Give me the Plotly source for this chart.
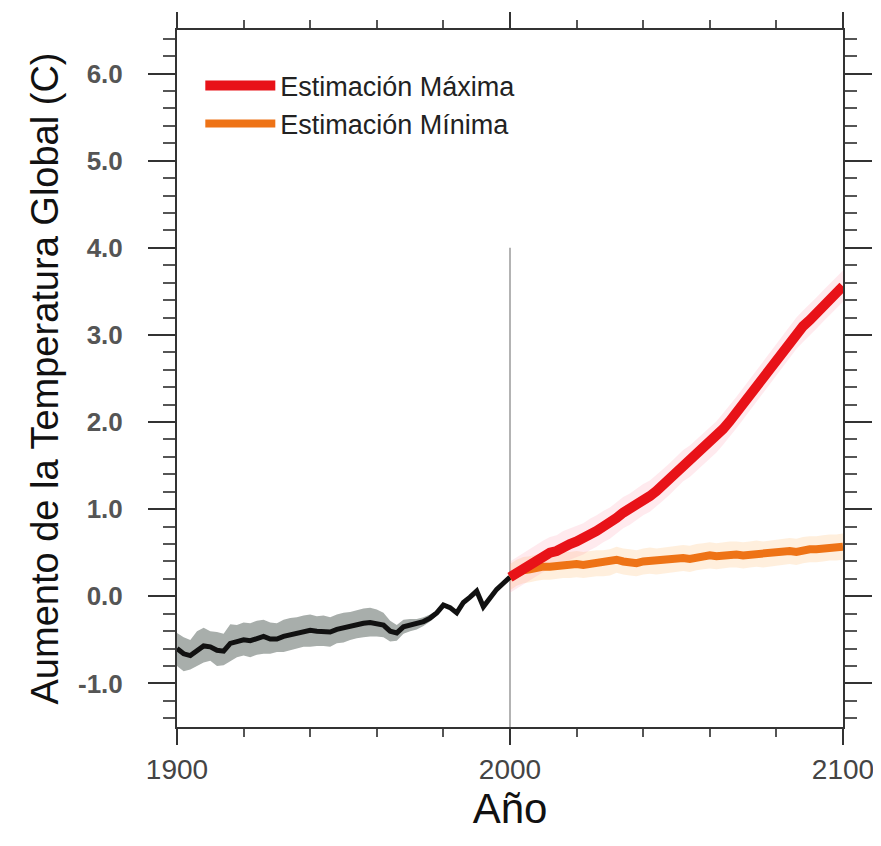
import plotly.graph_objects as go

# ---------------- data ----------------
hist_years = list(range(1900, 2001, 2))
hist_vals = [-0.60, -0.66, -0.68, -0.62, -0.57, -0.58, -0.62, -0.63, -0.54, -0.52,
             -0.50, -0.51, -0.48, -0.46, -0.49, -0.49, -0.46, -0.44, -0.42, -0.41,
             -0.39, -0.40, -0.40, -0.41, -0.38, -0.36, -0.34, -0.32, -0.31, -0.30,
             -0.31, -0.33, -0.40, -0.42, -0.35, -0.33, -0.32, -0.29, -0.25, -0.19,
             -0.10, -0.13, -0.19, -0.07, -0.01, 0.06, -0.12, -0.02, 0.08, 0.15, 0.22]

band_years = list(range(1900, 1979, 2))
band_hi = [-0.42, -0.47, -0.50, -0.40, -0.36, -0.40, -0.41, -0.43, -0.32, -0.33,
           -0.30, -0.31, -0.28, -0.27, -0.30, -0.31, -0.27, -0.25, -0.24, -0.22,
           -0.21, -0.23, -0.22, -0.24, -0.21, -0.19, -0.18, -0.16, -0.14, -0.13,
           -0.15, -0.19, -0.28, -0.33, -0.27, -0.26, -0.26, -0.24, -0.21, -0.16]
band_lo = [-0.80, -0.86, -0.84, -0.80, -0.76, -0.74, -0.80, -0.79, -0.74, -0.70,
           -0.68, -0.70, -0.67, -0.66, -0.66, -0.64, -0.64, -0.62, -0.60, -0.58,
           -0.58, -0.57, -0.57, -0.58, -0.54, -0.53, -0.50, -0.48, -0.47, -0.46,
           -0.46, -0.47, -0.52, -0.51, -0.43, -0.40, -0.38, -0.34, -0.29, -0.22]

proj_years = list(range(2000, 2101, 2))
max_vals = [0.22, 0.27, 0.31, 0.36, 0.41, 0.46, 0.50, 0.52, 0.57, 0.60,
            0.63, 0.66, 0.71, 0.75, 0.80, 0.84, 0.90, 0.96, 1.00, 1.06,
            1.11, 1.15, 1.21, 1.28, 1.35, 1.43, 1.50, 1.55, 1.62, 1.68,
            1.75, 1.83, 1.92, 2.01, 2.11, 2.21, 2.31, 2.42, 2.52, 2.62,
            2.72, 2.82, 2.92, 3.02, 3.10, 3.17, 3.25, 3.33, 3.41, 3.49, 3.56]
min_vals = [0.22, 0.27, 0.30, 0.31, 0.33, 0.34, 0.34, 0.35, 0.36, 0.36,
            0.37, 0.36, 0.37, 0.38, 0.38, 0.39, 0.42, 0.40, 0.39, 0.38,
            0.40, 0.41, 0.40, 0.41, 0.42, 0.43, 0.44, 0.43, 0.45, 0.46,
            0.47, 0.46, 0.47, 0.48, 0.48, 0.47, 0.48, 0.49, 0.48, 0.49,
            0.50, 0.51, 0.52, 0.51, 0.53, 0.54, 0.54, 0.55, 0.56, 0.56, 0.57]
max_spread = 0.18
min_spread = 0.15

divider_year = 2000
divider_range = [-1.5, 4.0]

y_ticks = [-1, 0, 1, 2, 3, 4, 5, 6]
y_ticktext = ["-1.0", "0.0", "1.0", "2.0", "3.0", "4.0", "5.0", "6.0"]
x_ticks = [1900, 2000, 2100]

series_names = ["Estimación Máxima", "Estimación Mínima"]

# ---------------- figure ----------------
SANS = "Liberation Sans, Arial, sans-serif"

fig = go.Figure()

# vertical divider at 2000
fig.add_trace(go.Scatter(x=[divider_year, divider_year], y=divider_range, mode="lines",
                         line=dict(color="#9a9a9a", width=1.5), showlegend=False,
                         hoverinfo="skip"))

# historical uncertainty band
fig.add_trace(go.Scatter(x=band_years, y=band_hi, mode="lines", line=dict(width=0),
                         showlegend=False, hoverinfo="skip"))
fig.add_trace(go.Scatter(x=band_years, y=band_lo, mode="lines", line=dict(width=0),
                         fill="tonexty", fillcolor="rgb(168,174,171)",
                         showlegend=False, hoverinfo="skip"))

# projection clouds
fig.add_trace(go.Scatter(x=proj_years, y=[v + min_spread for v in min_vals], mode="lines",
                         line=dict(width=0), showlegend=False, hoverinfo="skip"))
fig.add_trace(go.Scatter(x=proj_years, y=[v - min_spread for v in min_vals], mode="lines",
                         line=dict(width=0), fill="tonexty",
                         fillcolor="rgba(255,190,120,0.25)", showlegend=False,
                         hoverinfo="skip"))
fig.add_trace(go.Scatter(x=proj_years, y=[v + max_spread for v in max_vals], mode="lines",
                         line=dict(width=0), showlegend=False, hoverinfo="skip"))
fig.add_trace(go.Scatter(x=proj_years, y=[v - max_spread for v in max_vals], mode="lines",
                         line=dict(width=0), fill="tonexty",
                         fillcolor="rgba(255,140,160,0.18)", showlegend=False,
                         hoverinfo="skip"))

# historical line
fig.add_trace(go.Scatter(x=hist_years, y=hist_vals, mode="lines",
                         line=dict(color="#111111", width=5), showlegend=False))

# projections
fig.add_trace(go.Scatter(x=proj_years, y=min_vals, mode="lines", name=series_names[1],
                         line=dict(color="rgb(238,115,22)", width=8)))
fig.add_trace(go.Scatter(x=proj_years, y=max_vals, mode="lines", name=series_names[0],
                         line=dict(color="rgb(232,18,24)", width=10)))

axis_common = dict(showline=True, linecolor="#333333", linewidth=2, mirror="ticks",
                   ticks="outside", tickcolor="#333333", tickwidth=2,
                   showgrid=False, zeroline=False, automargin=False)

fig.update_xaxes(range=[1900, 2100], tickvals=x_ticks, ticklen=16,
                 minor=dict(dtick=20, ticklen=8, tickwidth=1.5, tickcolor="#555555",
                            ticks="outside", showgrid=False),
                 tickfont=dict(family=SANS, size=28, color="#444444"),
                 title=dict(text="Año", font=dict(family=SANS, size=42, color="#111111"),
                            standoff=8),
                 **axis_common)
fig.update_yaxes(range=[-1.5, 6.5], tickvals=y_ticks, ticktext=y_ticktext, ticklen=27,
                 ticklabelstandoff=20,
                 minor=dict(dtick=0.2, ticklen=12, tickwidth=1.5, tickcolor="#555555",
                            ticks="outside", showgrid=False),
                 tickfont=dict(family=SANS, size=26, color="#555555", weight="bold"),
                 title=dict(text="Aumento de la Temperatura Global (C)",
                            font=dict(family=SANS, size=38, color="#111111"),
                            standoff=8),
                 **axis_common)

fig.update_layout(
    width=881, height=846,
    margin=dict(l=169, r=46, t=22, b=127),
    plot_bgcolor="white", paper_bgcolor="white",
    legend=dict(x=0.035, y=0.955, xanchor="left", yanchor="top",
                bgcolor="rgba(0,0,0,0)", traceorder="reversed", itemwidth=70,
                font=dict(family=SANS, size=27, color="#222222")),
)

fig.write_html("out.html")
